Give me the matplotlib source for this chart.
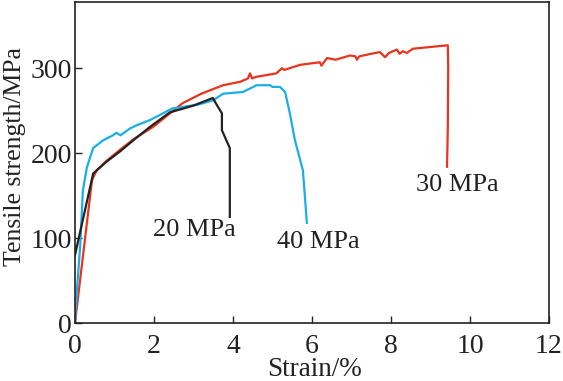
import matplotlib
matplotlib.use("Agg")
import matplotlib.pyplot as plt

# 30 MPa (red)
x30 = [0, 0.43, 0.55, 0.8, 1.14, 1.5, 1.98, 2.73, 3.2, 3.75, 4.18, 4.38, 4.43, 4.48, 4.6, 4.86, 5.1, 5.24, 5.3, 5.7, 6.2, 6.24, 6.38, 6.6, 6.96, 7.1, 7.14, 7.2, 7.5, 7.72, 7.85, 7.95, 8.15, 8.22, 8.3, 8.4, 8.56, 9.0, 9.44, 9.45, 9.44, 9.42]
y30 = [0, 168, 180, 191, 204, 217, 231, 259, 270, 280, 284, 288, 294, 288, 290, 292, 294, 300, 298, 304, 307, 303, 312, 310, 315, 314, 310, 314, 317, 319, 313, 318, 322, 317, 320, 318, 323, 325, 327, 300, 230, 184]

# 40 MPa (blue)
x40 = [0, 0.05, 0.13, 0.2, 0.3, 0.46, 0.71, 0.96, 1.05, 1.15, 1.39, 1.57, 1.9, 2.15, 2.48, 2.58, 2.8, 3.1, 3.49, 3.75, 4.25, 4.6, 4.94, 5.0, 5.19, 5.32, 5.44, 5.57, 5.77, 5.82, 5.87]
y40 = [0, 40, 89, 156, 183, 206, 215, 221, 224, 221, 229, 233, 239, 245, 253, 253, 255, 257, 262, 270, 272, 280, 280, 278, 278, 272, 247, 215, 180, 150, 118]

# 20 MPa (black)
x20 = [0, 0.46, 0.8, 1.14, 1.5, 1.9, 2.4, 3.0, 3.49, 3.6, 3.72, 3.72, 3.92, 3.92]
y20 = [80, 176, 190, 202, 216, 231, 248, 256, 265, 256, 247, 227, 206, 125]

labels = ["20 MPa", "40 MPa", "30 MPa"]
label_pos_x = [3.03, 6.15, 9.67]
label_pos_y = [109, 95, 162]

xticks = [0, 2, 4, 6, 8, 10, 12]
yticks = [0, 100, 200, 300]

plt.rcParams['font.family'] = ['Liberation Serif', 'DejaVu Serif']
fig = plt.figure(figsize=(5.63, 3.81), dpi=100)
ax = fig.add_axes([0.1332, 0.1522, 0.8418, 0.8426])

ax.plot(x30, y30, color='#e8341c', lw=1.6)
ax.plot(x40, y40, color='#1aaee6', lw=1.6)
ax.plot(x20, y20, color='#222222', lw=1.6)

for t, lx, ly in zip(labels, label_pos_x, label_pos_y):
    ax.text(lx, ly, t, fontsize=19, ha='center', va='center', color='#222222')

ax.set_xlim(0, 12)
ax.set_ylim(0, 378)
ax.set_xticks(xticks)
ax.set_yticks(yticks)
ax.tick_params(direction='in', length=5, width=1, labelsize=20, colors='#222222')
ax.tick_params(axis='x', pad=8)
ax.tick_params(axis='y', pad=2)
for s in ax.spines.values():
    s.set_linewidth(1.2)
    s.set_color('#222222')
ax.set_xlabel('Strain/%', fontsize=19.5, color='#222222')
ax.set_ylabel('Tensile strength/MPa', fontsize=18.5, color='#222222')
ax.xaxis.set_label_coords(0.505, -0.106)
ax.yaxis.set_label_coords(-0.103, 0.52)

fig.savefig('out.png', dpi=100)
